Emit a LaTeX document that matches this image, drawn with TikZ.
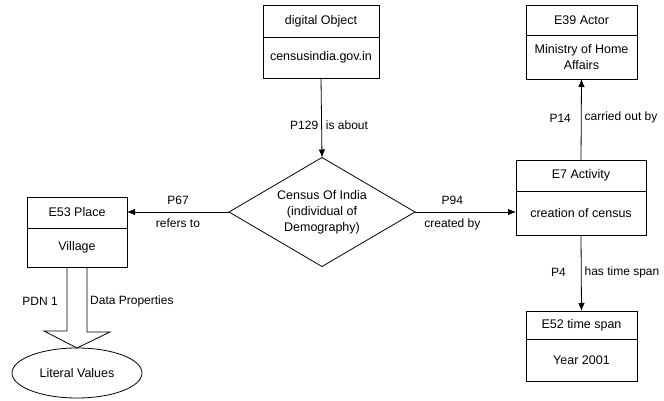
\documentclass[tikz,border=0pt]{standalone}
\usepackage{fontspec}
\setmainfont{Liberation Sans}
\usetikzlibrary{arrows.meta,positioning,shapes.geometric}

\begin{document}
\begin{tikzpicture}[x=1pt, y=-1pt, font=\fontsize{12.5}{16}\selectfont,
  box/.style={draw, line width=0.8pt, inner sep=2pt, outer sep=0pt, align=center},
  link/.style={line width=0.8pt, -{Latex[length=8pt,width=6.5pt]}},
  lbl/.style={inner sep=0pt, font=\fontsize{12}{14}\selectfont}]
\useasboundingbox (0,0) rectangle (664,401);

\node[box, minimum width=116pt, minimum height=32pt] (obj) at (321,21) {digital Object};
\node[box, minimum width=116pt, minimum height=41pt, below=0pt of obj] (objv) {censusindia.gov.in};

\node[box, minimum width=111pt, minimum height=30pt] (actor) at (581.5,20) {E39 Actor};
\node[box, minimum width=111pt, minimum height=44pt, below=0pt of actor] (actorv) {Ministry of Home\\Affairs};

\node[box, minimum width=100pt, minimum height=31pt] (place) at (77,212.5) {E53 Place};
\node[box, minimum width=100pt, minimum height=39pt, below=0pt of place] (placev) {Village};

\node[box, minimum width=130pt, minimum height=31pt] (act) at (581,175.5) {E7 Activity};
\node[box, minimum width=130pt, minimum height=44pt, below=0pt of act] (actv) {creation of census};

\node[box, minimum width=111pt, minimum height=28pt] (span) at (581.5,325) {E52 time span};
\node[box, minimum width=111pt, minimum height=42pt, below=0pt of span] (spanv) {Year 2001};

\node[draw, line width=0.8pt, shape=diamond, shape aspect=1.7, inner sep=0pt, outer sep=0pt,
  minimum width=186pt, minimum height=109pt, align=center] (census) at (322,212)
  {Census Of India\\(individual of\\Demography)};

\node[draw, line width=0.8pt, shape=ellipse, inner sep=0pt, outer sep=0pt,
  minimum width=130pt, minimum height=50pt] (lit) at (77,373) {Literal Values};

\draw[link] (objv.south) -- (census.north)
  node[lbl, pos=0.59, left=3pt] (p129) {P129}
  node[lbl, pos=0.59, right=4pt] (about) {is about};
\draw[link] (census.west) -- (place.east |- census.west)
  node[lbl, midway, above=7pt] (p67) {P67}
  node[lbl, midway, below=6pt] (refers) {refers to};
\draw[link] (census.east) -- (act.west |- census.east)
  node[lbl, pos=0.37, above=7pt] (p94) {P94}
  node[lbl, pos=0.37, below=6pt] (created) {created by};
\draw[link] (act.north) -- (actorv.south)
  node[lbl, pos=0.52, left=10pt] (p14) {P14}
  node[lbl, pos=0.52, right=3pt] (carried) {carried out by};
\draw[link] (actv.south) -- (span.north)
  node[lbl, pos=0.49, left=15pt] (p4) {P4}
  node[lbl, pos=0.49, right=3pt] (hasspan) {has time span};

\draw[line width=0.8pt] ([xshift=-10pt]placev.south) -- ++(0,64) -- ++(-23,0) -- (lit.north)
  -- ++(33,-16) -- ++(-23,0) -- ([xshift=10pt]placev.south);
\node[lbl, anchor=east] (pdn) at (58,301) {PDN 1};
\node[lbl, anchor=west] (dataprop) at (90,301) {Data Properties};
\end{tikzpicture}
\end{document}
